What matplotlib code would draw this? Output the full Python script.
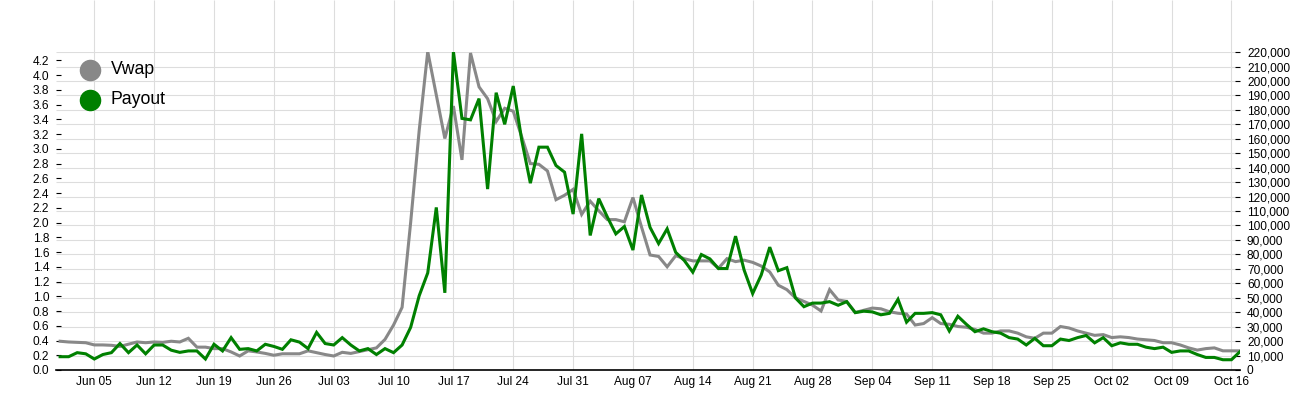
import matplotlib
matplotlib.use("Agg")
import matplotlib.pyplot as plt
import matplotlib.transforms as mtransforms
from matplotlib.ticker import FuncFormatter, MultipleLocator, FixedLocator
import pandas as pd
import numpy as np

plt.rcParams['font.family'] = ['Liberation Sans', 'DejaVu Sans']

# ---- data -------------------------------------------------------------
start_date = "2017-06-01"
series_names = ["Vwap", "Payout"]
series_colors = ["#888888", "#008000"]

vwap = [
    0.39, 0.38, 0.375, 0.37, 0.34, 0.34, 0.335, 0.32, 0.35, 0.38,
    0.37, 0.38, 0.375, 0.39, 0.38, 0.43, 0.31, 0.31, 0.29, 0.29,
    0.245, 0.19, 0.26, 0.245, 0.225, 0.20, 0.22, 0.22, 0.22, 0.26,
    0.235, 0.21, 0.19, 0.24, 0.225, 0.25, 0.275, 0.30, 0.415, 0.61,
    0.85, 2.00, 3.25, 4.32, 3.73, 3.14, 3.58, 2.85, 4.30, 3.84,
    3.68, 3.37, 3.55, 3.51, 3.16, 2.80, 2.79, 2.70, 2.31, 2.37,
    2.45, 2.11, 2.29, 2.16, 2.04, 2.04, 2.01, 2.34, 1.94, 1.56,
    1.54, 1.40, 1.55, 1.51, 1.48, 1.48, 1.48, 1.38, 1.51, 1.47,
    1.49, 1.46, 1.41, 1.33, 1.15, 1.09, 0.98, 0.93, 0.88, 0.80,
    1.09, 0.95, 0.93, 0.78, 0.81, 0.84, 0.83, 0.79, 0.77, 0.76,
    0.61, 0.63, 0.71, 0.63, 0.62, 0.59, 0.58, 0.55, 0.50, 0.50,
    0.53, 0.53, 0.50, 0.45, 0.43, 0.50, 0.50, 0.59, 0.57, 0.53,
    0.50, 0.47, 0.48, 0.44, 0.45, 0.44, 0.42, 0.41, 0.40, 0.37,
    0.37, 0.34, 0.30, 0.27, 0.29, 0.30, 0.26, 0.26, 0.26,
]

payout = [
    9200, 9200, 12000, 11200, 7600, 10700, 12000, 18300, 12000, 17300,
    11200, 17300, 17300, 13700, 12200, 13200, 13200, 7600, 17800, 13200,
    22400, 14300, 14800, 13200, 17800, 16300, 14300, 20900, 19300, 14800,
    26000, 18300, 17300, 22400, 17300, 13200, 14800, 10700, 14800, 12000,
    17300, 29500, 51400, 67200, 112500, 53400, 220400, 174100, 173100, 187800,
    125200, 191900, 170000, 196500, 158800, 129300, 154200, 154200, 141500, 136900,
    107900, 163400, 93100, 118600, 105900, 94200, 99300, 83000, 121100, 98700,
    87500, 97700, 81400, 75800, 67700, 79900, 76900, 70200, 70200, 92600,
    69200, 52900, 65700, 85000, 68700, 70800, 49900, 43800, 46300, 46300,
    47300, 44800, 47300, 39700, 40700, 40200, 38200, 39200, 48900, 33100,
    39200, 39200, 39700, 38200, 27000, 37200, 31600, 26500, 28500, 26500,
    25500, 22400, 21400, 17300, 21900, 16800, 16800, 21400, 20400, 22400,
    23900, 18800, 22400, 16800, 18800, 17800, 17800, 15800, 14800, 15800,
    12200, 13200, 13200, 10700, 8700, 8700, 7100, 7100, 12700,
]

dates = pd.date_range(start_date, periods=len(vwap), freq="D")
week_ticks = pd.date_range("2017-06-05", dates[-1], freq="7D")
left_ticks = np.round(np.arange(0, 4.21, 0.2), 1)
right_ticks = np.arange(0, 220001, 10000)

# ---- figure -------------------------------------------------------------
W, H = 1300, 400
fig = plt.figure(figsize=(W / 100, H / 100), dpi=100, facecolor="white")
ax_left_px, ax_right_px, ax_top_px, ax_bot_px = 56, 1240, 51.5, 370
ax = fig.add_axes([ax_left_px / W, (H - ax_bot_px) / H,
                   (ax_right_px - ax_left_px) / W, (ax_bot_px - ax_top_px) / H])
ax2 = ax.twinx()

grid_c = "#dddddd"

# vertical grid lines (extend to the top of the figure)
extra = ax_top_px / (ax_bot_px - ax_top_px)
ax.vlines(week_ticks, 0, 1 + extra, transform=ax.get_xaxis_transform(),
          color=grid_c, lw=0.8, clip_on=False, zorder=0)

# data lines
ax.plot(dates, vwap, color=series_colors[0], lw=2.2, zorder=3,
        solid_joinstyle="miter")
ax2.plot(dates, payout, color=series_colors[1], lw=2.2, zorder=3,
         solid_joinstyle="miter")

ax.set_xlim(dates[0] - pd.Timedelta(hours=11.5), dates[-1])
ax.set_ylim(0, max(vwap))
ax2.set_ylim(0, max(payout))

# horizontal grid lines follow the right axis ticks
blend = mtransforms.blended_transform_factory(ax.transAxes, ax2.transData)
ax.hlines(right_ticks, 0, 1, transform=blend, color=grid_c, lw=0.8, zorder=0)

for a in (ax, ax2):
    for s in ("top", "left", "right"):
        a.spines[s].set_visible(False)
    a.spines["bottom"].set_visible(False)
    a.patch.set_visible(False)
ax.spines["bottom"].set_visible(True)
ax.spines["bottom"].set_color("black")
ax.spines["bottom"].set_linewidth(1.2)
ax.spines["bottom"].set_zorder(5)

fs = 8.6
ax.xaxis.set_major_locator(FixedLocator(matplotlib.dates.date2num(week_ticks)))
ax.xaxis.set_major_formatter(matplotlib.dates.DateFormatter("%b %d"))
ax.tick_params(axis="x", length=0, pad=4, labelsize=fs, colors="black")

ax.yaxis.set_major_locator(FixedLocator(left_ticks))
ax.yaxis.set_major_formatter(FuncFormatter(lambda v, p: f"{v:.1f}"))
ax.tick_params(axis="y", direction="in", length=3.5, width=0.8, pad=5,
               labelsize=fs, colors="black")

ax2.yaxis.set_major_locator(FixedLocator(right_ticks))
ax2.yaxis.set_major_formatter(FuncFormatter(lambda v, p: f"{int(v):,}"))
ax2.tick_params(axis="y", direction="in", length=3.5, width=0.8, pad=5,
                labelsize=fs, colors="black")

# legend (circles + labels)
leg_x, leg_y0, leg_dy = 90, 70, 30
for k, (name, col) in enumerate(zip(series_names, series_colors)):
    yy = leg_y0 + k * leg_dy
    fig.add_artist(plt.Line2D([leg_x / W], [1 - yy / H], marker="o",
                              markersize=14.5, color=col, linestyle="none",
                              transform=fig.transFigure))
    fig.text(111 / W, 1 - yy / H, name, fontsize=12.7, color="black",
             va="center", ha="left")

fig.savefig("out.png", dpi=100, facecolor="white")
